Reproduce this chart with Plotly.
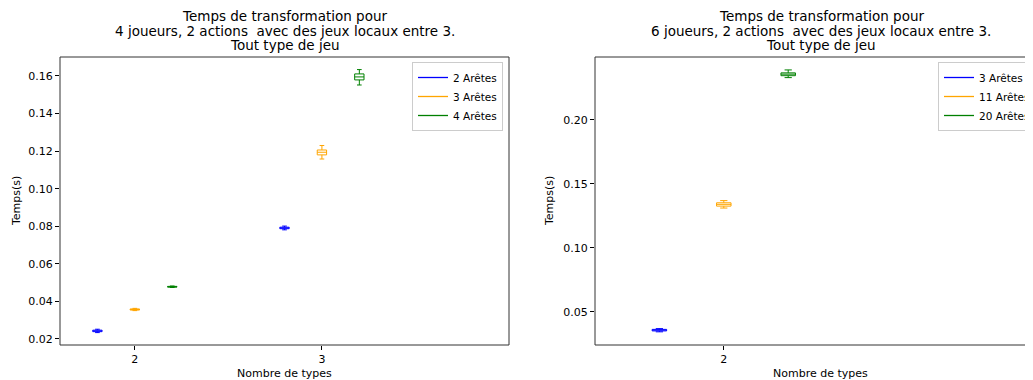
import plotly.graph_objects as go

# the page body adds an 8px margin; the figure is sized so it fills the window
OFF = 8
W, H = 1033 - OFF, 380 - OFF

# ---------------- data ----------------
types_left = [2, 3]
names_left = ["2 Arêtes", "3 Arêtes", "4 Arêtes"]
left_median = [[0.0243, 0.0791], [0.0357, 0.1194], [0.0478, 0.1595]]
left_q1 = [[0.0239, 0.0787], [0.0354, 0.1180], [0.0476, 0.1579]]
left_q3 = [[0.0247, 0.0795], [0.0360, 0.1206], [0.0480, 0.1611]]
left_low = [[0.0234, 0.0781], [0.0351, 0.1158], [0.0474, 0.1552]]
left_high = [[0.0252, 0.0801], [0.0363, 0.1230], [0.0482, 0.1634]]

types_right = [2]
names_right = ["3 Arêtes", "11 Arêtes", "20 Arêtes"]
right_median = [[0.0358], [0.1341], [0.2358]]
right_q1 = [[0.0352], [0.1327], [0.2346]]
right_q3 = [[0.0364], [0.1353], [0.2368]]
right_low = [[0.0345], [0.1312], [0.2331]]
right_high = [[0.0370], [0.1370], [0.2391]]

colors = ["blue", "orange", "green"]
offsets = [-0.2, 0.0, 0.2]

title_left = ["Temps de transformation pour",
              "4 joueurs, 2 actions  avec des jeux locaux entre 3.",
              "Tout type de jeu"]
title_right = ["Temps de transformation pour",
               "6 joueurs, 2 actions  avec des jeux locaux entre 3.",
               "Tout type de jeu"]

# ---------------- figure ----------------
FONT = "DejaVu Sans"
fig = go.Figure()


def px_x(p):
    return (p - OFF) / W


def px_y(p):
    return 1 - (p - OFF) / H


def add_group(types, names, med, q1, q3, lo, hi, xa, ya, leg, width):
    for i in range(3):
        xs = [t + offsets[i] for t in types]
        fig.add_trace(go.Box(
            x=xs, median=med[i], q1=q1[i], q3=q3[i],
            lowerfence=lo[i], upperfence=hi[i],
            width=width, whiskerwidth=0.5,
            line=dict(color=colors[i], width=1),
            fillcolor="rgba(255,255,255,0)",
            showlegend=False, hoverinfo="skip",
            xaxis=xa, yaxis=ya,
        ))
    for i in range(3):
        fig.add_trace(go.Scatter(
            x=[None], y=[None], mode="lines", name=names[i],
            line=dict(color=colors[i], width=1.3),
            legend=leg, xaxis=xa, yaxis=ya,
        ))


add_group(types_left, names_left, left_median, left_q1, left_q3, left_low, left_high,
          "x", "y", "legend", 0.05)
add_group(types_right, names_right, right_median, right_q1, right_q3, right_low, right_high,
          "x2", "y2", "legend2", 0.045)

L0, L1 = 60, 509
R0 = 595
T, B = 57, 345
TICK = 11

axis_common = dict(showgrid=False, zeroline=False, showline=False, ticks="outside",
                   ticklen=4, tickwidth=1, tickcolor="black", automargin=False,
                   tickfont=dict(family=FONT, size=TICK, color="black"))

legend_common = dict(bgcolor="rgba(255,255,255,0.8)", bordercolor="#cccccc", borderwidth=1,
                     font=dict(family=FONT, size=10.5, color="black"),
                     tracegroupgap=0, itemwidth=30)

fig.update_layout(
    width=W, height=H,
    margin=dict(l=0, r=0, t=0, b=0, autoexpand=False),
    plot_bgcolor="white", paper_bgcolor="white",
    boxmode="overlay",
    font=dict(family=FONT, size=TICK, color="black"),
    xaxis=dict(domain=[px_x(L0), px_x(L1)], range=[1.6, 4.0], tickvals=[2, 3],
               anchor="y", **axis_common),
    yaxis=dict(domain=[px_y(B), px_y(T)], range=[0.0168, 0.1701],
               tickvals=[0.02, 0.04, 0.06, 0.08, 0.10, 0.12, 0.14, 0.16],
               tickformat=".2f", anchor="x", **axis_common),
    xaxis2=dict(domain=[px_x(R0), 1.0], range=[1.6, 1.6 + (1033 - R0) / 322.0],
                tickvals=[2], anchor="y2", **axis_common),
    yaxis2=dict(domain=[px_y(B), px_y(T)], range=[0.0242, 0.2492],
                tickvals=[0.05, 0.10, 0.15, 0.20], tickformat=".2f",
                anchor="x2", **axis_common),
    legend=dict(x=px_x(503), y=px_y(62), xanchor="right", yanchor="top", **legend_common),
    legend2=dict(x=px_x(938), y=px_y(62), xanchor="left", yanchor="top", **legend_common),
)

# frames
fig.add_shape(type="rect", xref="paper", yref="paper",
              x0=px_x(L0), x1=px_x(L1), y0=px_y(B), y1=px_y(T),
              line=dict(color="#333333", width=1), layer="above")
fig.add_shape(type="rect", xref="paper", yref="paper",
              x0=px_x(R0), x1=px_x(1050), y0=px_y(B), y1=px_y(T),
              line=dict(color="#333333", width=1), layer="above")

# titles (one annotation per line) and axis labels
line_y = [16, 30.5, 44.5]
for cx, lines in [((L0 + L1) / 2, title_left), (821, title_right)]:
    for ly, txt in zip(line_y, lines):
        fig.add_annotation(x=px_x(cx), y=px_y(ly), xref="paper", yref="paper",
                           text=txt, showarrow=False, xanchor="center", yanchor="middle",
                           font=dict(family=FONT, size=13.5, color="black"))
for cx in [(L0 + L1) / 2, 820]:
    fig.add_annotation(x=px_x(cx), y=px_y(373), xref="paper", yref="paper",
                       text="Nombre de types", showarrow=False,
                       xanchor="center", yanchor="middle",
                       font=dict(family=FONT, size=TICK, color="black"))
for cx in [16, 549]:
    fig.add_annotation(x=px_x(cx), y=px_y((T + B) / 2), xref="paper", yref="paper",
                       text="Temps(s)", showarrow=False, textangle=-90,
                       xanchor="center", yanchor="middle",
                       font=dict(family=FONT, size=TICK, color="black"))

fig.write_html("out.html")
